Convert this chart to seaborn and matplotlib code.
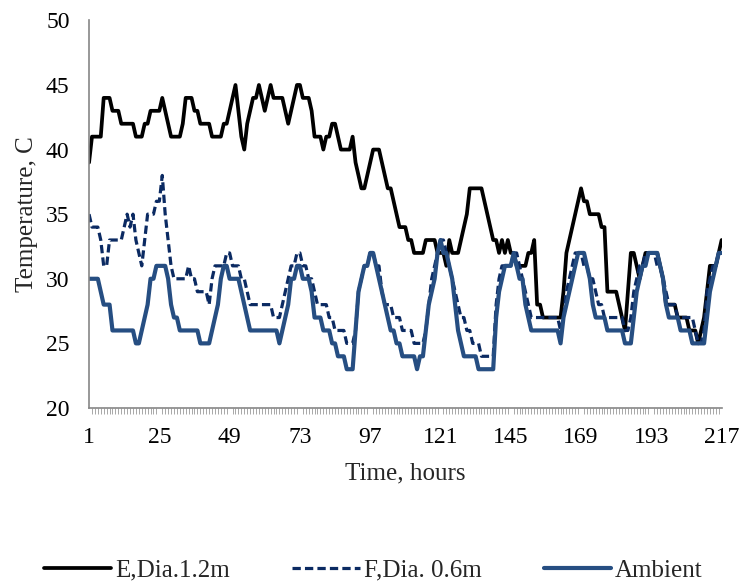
import numpy as np
import pandas as pd
import matplotlib
matplotlib.use("Agg")
import matplotlib.pyplot as plt
import seaborn as sns

# hourly readings, hours 1..217
hours = list(range(1, 218))

e_dia_12 = [
    39, 41, 41, 41, 41, 44, 44, 44, 43, 43,
    43, 42, 42, 42, 42, 42, 41, 41, 41, 42,
    42, 43, 43, 43, 43, 44, 43, 42, 41, 41,
    41, 41, 42, 44, 44, 44, 43, 43, 42, 42,
    42, 42, 41, 41, 41, 41, 42, 42, 43, 44,
    45, 43, 41, 40, 42, 43, 44, 44, 45, 44,
    43, 44, 45, 44, 44, 44, 44, 43, 42, 43,
    44, 45, 45, 44, 44, 44, 43, 41, 41, 41,
    40, 41, 41, 42, 42, 41, 40, 40, 40, 40,
    41, 39, 38, 37, 37, 38, 39, 40, 40, 40,
    39, 38, 37, 37, 36, 35, 34, 34, 34, 33,
    33, 32, 32, 32, 32, 33, 33, 33, 33, 32,
    32, 32, 31, 33, 32, 32, 32, 33, 34, 35,
    37, 37, 37, 37, 37, 36, 35, 34, 33, 33,
    32, 33, 32, 33, 32, 32, 31, 31, 31, 31,
    32, 32, 33, 28, 28, 27, 27, 27, 27, 27,
    27, 27, 29, 32, 33, 34, 35, 36, 37, 36,
    36, 35, 35, 35, 35, 34, 34, 29, 29, 29,
    29, 28, 27, 26, 29, 32, 32, 31, 30, 31,
    32, 32, 32, 32, 32, 31, 30, 28, 28, 28,
    28, 27, 27, 27, 27, 26, 26, 26, 25, 26,
    27, 29, 31, 31, 31, 32, 33,
]

f_dia_06 = [
    35, 34, 34, 34, 33, 31, 31, 33, 33, 33,
    33, 33, 34, 35, 34, 35, 33, 32, 31, 33,
    35, 35, 35, 36, 36, 38, 35, 33, 31, 30,
    30, 30, 30, 30, 31, 30, 30, 29, 29, 29,
    29, 28, 30, 31, 31, 31, 31, 32, 32, 31,
    31, 31, 30, 30, 29, 28, 28, 28, 28, 28,
    28, 28, 28, 27, 27, 27, 28, 29, 30, 31,
    31, 32, 32, 31, 31, 30, 30, 29, 28, 28,
    28, 28, 27, 27, 26, 26, 26, 26, 25, 25,
    25, 26, 29, 30, 31, 31, 32, 32, 31, 31,
    29, 28, 28, 28, 27, 27, 27, 26, 26, 26,
    26, 25, 25, 25, 25, 26, 28, 30, 31, 32,
    33, 33, 32, 31, 30, 29, 28, 27, 27, 26,
    26, 25, 25, 25, 24, 24, 24, 24, 24, 28,
    30, 31, 31, 31, 31, 32, 32, 31, 30, 29,
    28, 27, 27, 27, 27, 27, 27, 27, 27, 27,
    27, 26, 27, 29, 30, 31, 32, 32, 32, 31,
    31, 30, 30, 29, 28, 28, 27, 27, 27, 27,
    27, 27, 27, 26, 26, 27, 29, 30, 31, 31,
    32, 32, 32, 32, 31, 31, 30, 29, 28, 28,
    28, 27, 27, 27, 27, 27, 27, 26, 25, 25,
    26, 29, 30, 31, 31, 32, 32,
]

ambient = [
    30, 30, 30, 30, 29, 28, 28, 28, 26, 26,
    26, 26, 26, 26, 26, 26, 25, 25, 26, 27,
    28, 30, 30, 31, 31, 31, 31, 30, 28, 27,
    27, 26, 26, 26, 26, 26, 26, 26, 25, 25,
    25, 25, 26, 27, 28, 30, 31, 31, 30, 30,
    30, 30, 29, 28, 27, 26, 26, 26, 26, 26,
    26, 26, 26, 26, 26, 25, 26, 27, 28, 30,
    30, 31, 31, 30, 30, 30, 29, 27, 27, 27,
    26, 26, 26, 25, 25, 24, 24, 24, 23, 23,
    23, 26, 29, 30, 31, 31, 32, 32, 31, 30,
    29, 28, 27, 26, 26, 25, 25, 24, 24, 24,
    24, 24, 23, 24, 24, 26, 28, 29, 30, 32,
    33, 32, 32, 31, 30, 28, 26, 25, 24, 24,
    24, 24, 24, 23, 23, 23, 23, 23, 23, 27,
    29, 30, 31, 31, 31, 32, 31, 30, 30, 28,
    27, 26, 26, 26, 26, 26, 26, 26, 26, 26,
    26, 25, 27, 28, 29, 30, 31, 32, 32, 32,
    31, 30, 28, 27, 27, 27, 27, 26, 26, 26,
    26, 26, 26, 25, 25, 25, 27, 29, 30, 31,
    31, 32, 32, 32, 32, 31, 30, 28, 27, 27,
    27, 27, 26, 26, 26, 26, 25, 25, 25, 25,
    25, 27, 29, 30, 31, 32, 32,
]

x_ticks = list(range(1, 218, 24))

df = pd.DataFrame({"hour": hours, "E": e_dia_12, "F": f_dia_06, "Amb": ambient})

sns.set_theme(style="white")
plt.rcParams["font.family"] = ["Liberation Serif", "DejaVu Serif"]

fig = plt.figure(figsize=(7.39, 5.82), dpi=100)
ax = fig.add_axes([0.1205, 0.299, 0.856, 0.666])

sns.lineplot(data=df, x="hour", y="E", ax=ax, color="black", linewidth=2.7,
             label="E,Dia.1.2m")
sns.lineplot(data=df, x="hour", y="F", ax=ax, color="#0B2A62", linewidth=2.3,
             dashes=False, label="F,Dia. 0.6m")
ax.lines[-1].set_dashes([2.6, 1.3])
sns.lineplot(data=df, x="hour", y="Amb", ax=ax, color="#264E82", linewidth=3.0,
             label="Ambient")

ax.set_xlim(1, 217)
ax.set_ylim(20, 50)
ax.set_yticks(range(20, 51, 5))
ax.set_xticks(x_ticks)
ax.set_xticks(hours, minor=True)
ax.tick_params(axis="both", labelsize=17, colors="#868686", labelcolor="black",
               direction="out", length=5, width=1)
ax.tick_params(axis="y", pad=9)
ax.tick_params(axis="x", which="minor", length=4, width=0.6, colors="#9a9a9a",
               bottom=True)
ax.tick_params(axis="x", which="major", length=4, pad=10)

for side in ["top", "right"]:
    ax.spines[side].set_visible(False)
for side in ["left", "bottom"]:
    ax.spines[side].set_color("#868686")
    ax.spines[side].set_linewidth(1.2)

ax.set_xlabel("Time, hours", fontsize=18, labelpad=10)
ax.set_ylabel("Temperature, C", fontsize=18, labelpad=6)

ax.get_legend().remove()
handles, labels = ax.get_legend_handles_labels()
fig.legend(handles, labels, loc="center", bbox_to_anchor=(0.505, 0.02), ncol=3,
           frameon=False, fontsize=18, handlelength=2.7, columnspacing=2.5,
           handletextpad=0.15)

fig.savefig("out.png", dpi=100)
